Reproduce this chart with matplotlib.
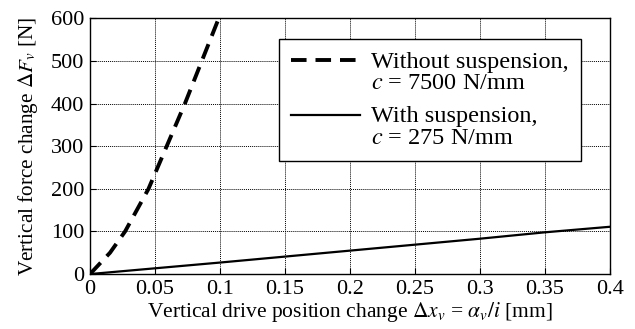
import matplotlib
matplotlib.use('Agg')
import matplotlib.pyplot as plt

# ── Data ──────────────────────────────────────────────────────────────────────
x_rigid = [0.0, 0.0154, 0.027, 0.045, 0.059, 0.073, 0.086, 0.099]
f_rigid = [0, 50, 100, 200, 300, 400, 500, 600]

x_susp = [0.0, 0.1, 0.2, 0.3, 0.35, 0.4]
f_susp = [0, 27, 55, 83, 98, 111]

x_ticks = [0, 0.05, 0.1, 0.15, 0.2, 0.25, 0.3, 0.35, 0.4]
x_tick_labels = ['0', '0.05', '0.1', '0.15', '0.2', '0.25', '0.3', '0.35', '0.4']
y_ticks = [0, 100, 200, 300, 400, 500, 600]

# ── Style ─────────────────────────────────────────────────────────────────────
plt.rcParams.update({
    'font.family': 'serif',
    'font.serif': ['Liberation Serif', 'DejaVu Serif'],
    'mathtext.fontset': 'stix',
    'font.size': 15,
})

fig = plt.figure(figsize=(6.35, 3.29), dpi=100)
ax = fig.add_axes([0.1417, 0.167, 0.819, 0.777])

ax.plot(x_rigid, f_rigid, color='black', lw=2.8, ls=(0, (4.0, 2.3)),
        label='Without suspension,\n$c$ = 7500 N/mm')
ax.plot(x_susp, f_susp, color='black', lw=1.6,
        label='With suspension,\n$c$ = 275 N/mm')

ax.set_xlim(0, 0.4)
ax.set_ylim(0, 600)
ax.set_xticks(x_ticks)
ax.set_xticklabels(x_tick_labels)
ax.set_yticks(y_ticks)
ax.tick_params(direction='in', length=4, width=0.8, labelsize=16, pad=4)
ax.grid(True, color='black', ls=(0, (1, 1)), lw=0.7)

for spine in ax.spines.values():
    spine.set_color('black')
    spine.set_linewidth(1.0)

ax.set_xlabel(r'Vertical drive position change $\Delta x_v$ = $\alpha_v/i$ [mm]',
              fontsize=15.5, labelpad=1)
ax.set_ylabel(r'Vertical force change $\Delta F_v$ [N]', fontsize=15.3, labelpad=8)

leg = ax.legend(loc='upper right', bbox_to_anchor=(0.9437, 0.918), fontsize=17.5,
                handlelength=2.85, handletextpad=0.45, labelspacing=0.48,
                borderpad=0.5, borderaxespad=0, fancybox=False, framealpha=1,
                edgecolor='black')
leg.get_frame().set_linewidth(1.0)
for t in leg.get_texts():
    t.set_linespacing(1.06)
# put each legend line next to the first line of its two-line label
for col in leg._legend_handle_box.get_children():
    for row in col.get_children():
        row.align = 'top'

fig.savefig('out.png', dpi=100, facecolor='white')
